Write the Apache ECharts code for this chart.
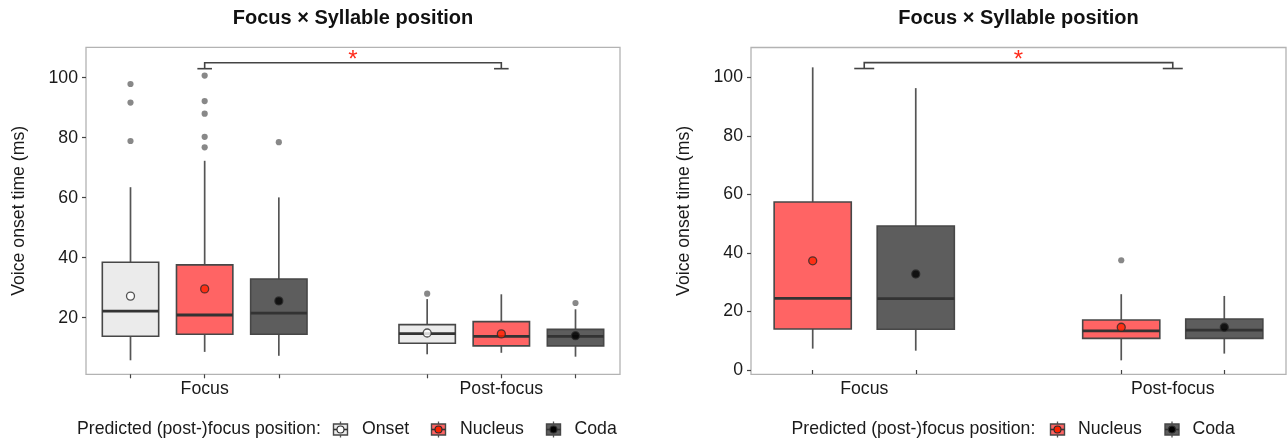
<!DOCTYPE html>
<html><head><meta charset="utf-8">
<script src="https://cdn.jsdelivr.net/npm/echarts@6/dist/echarts.min.js"></script>
<style>html,body{margin:0;padding:0;background:#fff}#c{width:1287px;height:443px}</style>
</head><body><div id="c"></div>
<script>
// ---------------- data ----------------
const categories = ['Focus', 'Post-focus'];
const chartTitle = 'Focus × Syllable position';
const yAxisTitle = 'Voice onset time (ms)';
const legendTitle = 'Predicted (post-)focus position:';
const yTicksLeft = [20, 40, 60, 80, 100];
const yTicksRight = [0, 20, 40, 60, 80, 100];

// [lower whisker, Q1, median, Q3, upper whisker] for Focus, Post-focus
const leftOnsetBox = [[5.8, 13.8, 22.2, 38.5, 63.5], [7.8, 11.5, 14.7, 17.7, 26.2]];
const leftNucleusBox = [[8.6, 14.5, 20.9, 37.6, 72.3], [8.3, 10.6, 13.8, 18.7, 27.8]];
const leftCodaBox = [[7.3, 14.5, 21.5, 32.9, 60.1], [7.0, 10.6, 13.8, 16.1, 22.8]];
const leftOnsetMean = [27.2, 14.9];
const leftNucleusMean = [29.6, 14.6];
const leftCodaMean = [25.6, 14.0];
const leftOnsetOutliers = [[97.9, 91.7, 78.9], [28.0]];
const leftNucleusOutliers = [[100.7, 92.2, 88.0, 80.3, 76.8], []];
const leftCodaOutliers = [[78.5], [24.9]];

const rightNucleusBox = [[7.3, 14.0, 24.5, 57.4, 103.4], [3.3, 10.8, 13.4, 17.1, 25.9]];
const rightCodaBox = [[6.6, 13.9, 24.4, 49.2, 96.3], [5.6, 10.8, 13.6, 17.4, 25.3]];
const rightNucleusMean = [37.3, 14.6];
const rightCodaMean = [32.8, 14.6];
const rightNucleusOutliers = [[], [37.5]];
const rightCodaOutliers = [[], []];

// significance bracket: [from category, to category, tip value, top value]
const sigBracket = [1, 2, 103, 105];
const sigLabel = '*';

// ---------------- styles / layout ----------------
const FONT = "'Liberation Sans', Arial, Helvetica, sans-serif";
const TXT = '#1a1a1a';
const groupStyle = {
  Onset:   { fill: '#ebebeb', mean: '#ffffff' },
  Nucleus: { fill: '#ff6464', mean: '#ff2200' },
  Coda:    { fill: '#5d5d5d', mean: '#000000' }
};

const panels = [
  {
    grid: { left: 86, top: 47.3, width: 534, height: 327 },
    x: [0.6, 2.4], y: [1.13, 110.13], yTicks: yTicksLeft,
    offsets: [-0.25, 0, 0.25], boxW: 0.19, capHalf: 0.0246,
    titleX: 353,
    groups: [
      { name: 'Onset', box: leftOnsetBox, mean: leftOnsetMean, out: leftOnsetOutliers },
      { name: 'Nucleus', box: leftNucleusBox, mean: leftNucleusMean, out: leftNucleusOutliers },
      { name: 'Coda', box: leftCodaBox, mean: leftCodaMean, out: leftCodaOutliers }
    ],
    legend: { titleX: 77, items: [[340.5, 362], [438.5, 460], [553.5, 574.5]] }
  },
  {
    grid: { left: 751, top: 47.5, width: 535, height: 326.8 },
    x: [0.633, 2.367], y: [-1.47, 110.18], yTicks: yTicksRight,
    offsets: [-0.167, 0.167], boxW: 0.25, capHalf: 0.0324,
    titleX: 1018.5,
    groups: [
      { name: 'Nucleus', box: rightNucleusBox, mean: rightNucleusMean, out: rightNucleusOutliers },
      { name: 'Coda', box: rightCodaBox, mean: rightCodaMean, out: rightCodaOutliers }
    ],
    legend: { titleX: 791.5, items: [[1057.5, 1078], [1172, 1192.5]] }
  }
];

const grids = [], xAxes = [], yAxes = [], series = [], graphics = [];

panels.forEach((p, pi) => {
  grids.push(Object.assign({ show: true, borderColor: '#b3b3b3', borderWidth: 1.3, backgroundColor: '#fff' }, p.grid));
  const tickPos = [];
  categories.forEach((c, ci) => p.offsets.forEach(o => tickPos.push(ci + 1 + o)));
  xAxes.push({
    type: 'value', gridIndex: pi, min: p.x[0], max: p.x[1],
    axisLine: { show: false }, splitLine: { show: false },
    axisTick: { show: true, length: 4, lineStyle: { color: '#444', width: 1.2 }, customValues: tickPos },
    axisLabel: { customValues: categories.map((c, i) => i + 1), formatter: v => categories[Math.round(v) - 1] || '',
      fontSize: 17.7, color: TXT, margin: 6, fontFamily: FONT }
  });
  yAxes.push({
    type: 'value', gridIndex: pi, min: p.y[0], max: p.y[1],
    name: yAxisTitle, nameLocation: 'middle', nameGap: 58,
    nameTextStyle: { fontSize: 17.7, color: TXT, fontFamily: FONT },
    axisLine: { show: false }, splitLine: { show: false },
    axisTick: { show: true, length: 4, lineStyle: { color: '#444', width: 1.2 }, customValues: p.yTicks },
    axisLabel: { customValues: p.yTicks, fontSize: 17.7, color: TXT, margin: 8, fontFamily: FONT }
  });

  p.groups.forEach((g, gi) => {
    const off = p.offsets[gi];
    const st = groupStyle[g.name];
    // box + whiskers
    series.push({
      type: 'custom', name: g.name, xAxisIndex: pi, yAxisIndex: pi, z: 2,
      data: g.box.map((b, ci) => [ci + 1 + off].concat(b)),
      encode: { x: 0, y: [1, 2, 3, 4, 5] },
      renderItem: (params, api) => {
        const x = api.value(0);
        const hw = p.boxW / 2;
        const lo = api.coord([x, api.value(1)]);
        const q1 = api.coord([x, api.value(2)]);
        const md = api.coord([x, api.value(3)]);
        const q3 = api.coord([x, api.value(4)]);
        const hi = api.coord([x, api.value(5)]);
        const l = api.coord([x - hw, api.value(3)])[0];
        const r = api.coord([x + hw, api.value(3)])[0];
        return { type: 'group', children: [
          { type: 'line', shape: { x1: lo[0], y1: lo[1], x2: q1[0], y2: q1[1] }, style: { stroke: '#555', lineWidth: 1.7 } },
          { type: 'line', shape: { x1: q3[0], y1: q3[1], x2: hi[0], y2: hi[1] }, style: { stroke: '#555', lineWidth: 1.7 } },
          { type: 'rect', shape: { x: l, y: q3[1], width: r - l, height: q1[1] - q3[1] }, style: { fill: st.fill, stroke: '#474747', lineWidth: 1.6 } },
          { type: 'line', shape: { x1: l, y1: md[1], x2: r, y2: md[1] }, style: { stroke: '#333', lineWidth: 2.8 } }
        ] };
      }
    });
    // outliers
    series.push({
      type: 'scatter', name: g.name + ' outliers', xAxisIndex: pi, yAxisIndex: pi, z: 3,
      symbolSize: 6.2, itemStyle: { color: '#6a6a6a' },
      data: g.out.flatMap((arr, ci) => arr.map(v => [ci + 1 + off, v]))
    });
    // means
    series.push({
      type: 'scatter', name: g.name + ' mean', xAxisIndex: pi, yAxisIndex: pi, z: 5,
      symbolSize: 8, itemStyle: { color: st.mean, borderColor: '#2b2b2b', borderWidth: 1.3 },
      data: g.mean.map((m, ci) => [ci + 1 + off, m])
    });
  });

  // significance bracket
  series.push({
    type: 'custom', name: 'significance', xAxisIndex: pi, yAxisIndex: pi, z: 4,
    data: [sigBracket], encode: { x: [0, 1], y: [2, 3] },
    renderItem: (params, api) => {
      const x1 = api.value(0), x2 = api.value(1), tip = api.value(2), top = api.value(3);
      const a = api.coord([x1, top]), b = api.coord([x2, top]);
      const a2 = api.coord([x1, tip]), b2 = api.coord([x2, tip]);
      const cl = api.coord([x1 - p.capHalf, tip])[0], cr = api.coord([x1 + p.capHalf, tip])[0];
      const dl = api.coord([x2 - p.capHalf, tip])[0], dr = api.coord([x2 + p.capHalf, tip])[0];
      const s = { stroke: '#444', lineWidth: 1.6 };
      return { type: 'group', children: [
        { type: 'polyline', shape: { points: [a2, a, b, b2] }, style: Object.assign({ fill: null }, s) },
        { type: 'line', shape: { x1: cl, y1: a2[1], x2: cr, y2: a2[1] }, style: s },
        { type: 'line', shape: { x1: dl, y1: b2[1], x2: dr, y2: b2[1] }, style: s },
        { type: 'text', x: (a[0] + b[0]) / 2, y: a[1] + 10, style: { text: sigLabel, fill: '#ff2a1a', font: '24px ' + FONT, align: 'center', verticalAlign: 'bottom' } }
      ] };
    }
  });

  // title
  graphics.push({ type: 'text', x: p.titleX, y: 18, style: { text: chartTitle, font: 'bold 20px ' + FONT, fill: '#111', align: 'center', verticalAlign: 'middle' } });

  // legend
  const ly = 429.5;
  graphics.push({ type: 'text', x: p.legend.titleX, y: ly, style: { text: legendTitle, font: '17.7px ' + FONT, fill: TXT, align: 'left', verticalAlign: 'middle' } });
  p.groups.forEach((g, gi) => {
    const [ix, tx] = p.legend.items[gi];
    const st = groupStyle[g.name];
    graphics.push({ type: 'line', shape: { x1: ix, y1: ly - 8, x2: ix, y2: ly + 8 }, style: { stroke: '#555', lineWidth: 1.3 } });
    graphics.push({ type: 'rect', shape: { x: ix - 7, y: ly - 5.5, width: 14, height: 11 }, style: { fill: st.fill, stroke: '#474747', lineWidth: 1.4 } });
    graphics.push({ type: 'line', shape: { x1: ix - 7, y1: ly, x2: ix + 7, y2: ly }, style: { stroke: '#333', lineWidth: 1.6 } });
    graphics.push({ type: 'circle', shape: { cx: ix, cy: ly, r: 3.5 }, style: { fill: st.mean, stroke: '#2b2b2b', lineWidth: 1.1 } });
    graphics.push({ type: 'text', x: tx, y: ly, style: { text: g.name, font: '17.7px ' + FONT, fill: TXT, align: 'left', verticalAlign: 'middle' } });
  });
});

const chart = echarts.init(document.getElementById('c'), null, { renderer: 'canvas' });
chart.setOption({
  animation: false,
  backgroundColor: '#fff',
  grid: grids, xAxis: xAxes, yAxis: yAxes, series: series,
  graphic: { elements: graphics }
});
</script></body></html>
